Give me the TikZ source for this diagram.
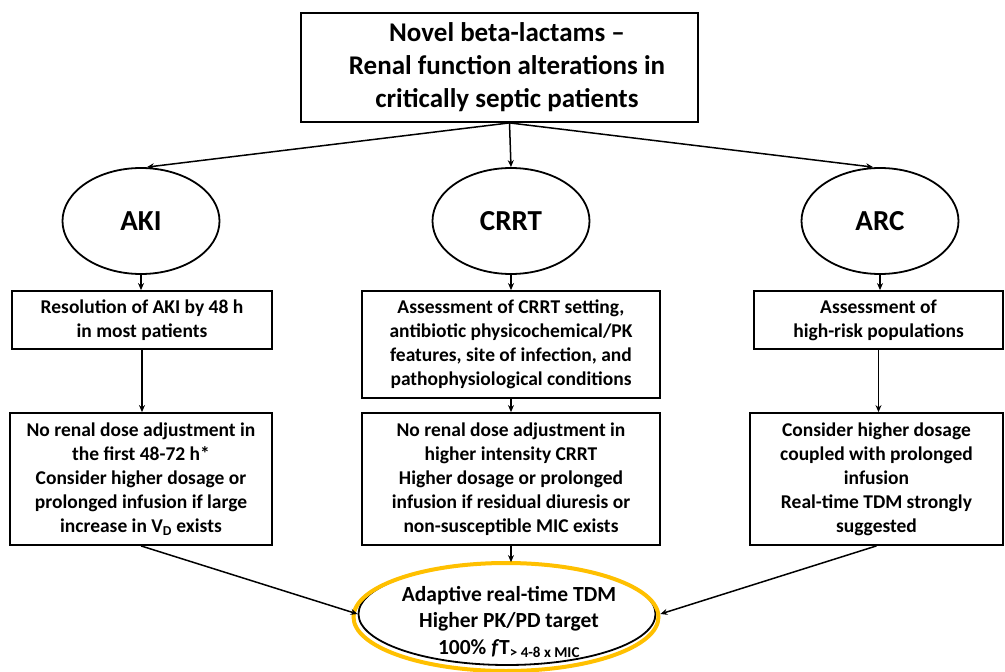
\documentclass[tikz,border=0pt]{standalone}
\usepackage{fontspec}
\setmainfont{Carlito}
\usetikzlibrary{shapes.geometric,arrows.meta,calc}
\definecolor{gold}{HTML}{FFC000}
\begin{document}
\begin{tikzpicture}[x=1pt,y=-1pt,
  every node/.style={font=\bfseries},
  box/.style={draw,line width=1.8pt,rectangle,inner sep=0pt,align=center,
    font=\bfseries\fontsize{19.5}{24}\selectfont},
  oval/.style={draw,line width=1.8pt,ellipse,inner sep=0pt,minimum width=157pt,minimum height=106pt,
    font=\bfseries\fontsize{29}{30}\selectfont},
  arr/.style={line width=1.5pt,-{Stealth[length=7pt,width=6pt]}}]
\useasboundingbox (0,0) rectangle (1005,672);
\fill[white] (0,0) rectangle (1005,672);

\node[box,minimum width=397pt,minimum height=109pt] (top) at (499.5,67.5) {};
\node[align=center,font=\bfseries\fontsize{27}{33}\selectfont] (toptxt) at (507,67.5)
  {Novel beta-lactams --\\Renal function alterations in\\critically septic patients};
\coordinate (tbo) at ([xshift=10pt]top.south);

\node[oval] (aki) at (141,221) {AKI};
\node[oval] (crrt) at (511,221) {CRRT};
\node[oval] (arc) at (880,221) {ARC};

\node[box,minimum width=260pt,minimum height=58pt] (b1a) at (142,320)
  {Resolution of AKI by 48 h\\in most patients};
\node[box,minimum width=298pt,minimum height=107pt] (b1c) at (511,344.5)
  {Assessment of CRRT setting,\\antibiotic physicochemical/PK\\features, site of infection, and\\pathophysiological conditions};
\node[box,minimum width=249pt,minimum height=58pt] (b1r) at (878.5,320)
  {Assessment of\\high-risk populations};

\node[box,minimum width=262pt,minimum height=132pt] (b2a) at (141,479)
  {No renal dose adjustment in\\the first 48-72 h*\\Consider higher dosage or\\prolonged infusion if large\\increase in V\textsubscript{D} exists};
\node[box,minimum width=298pt,minimum height=132pt] (b2c) at (511,479)
  {No renal dose adjustment in\\higher intensity CRRT\\Higher dosage or prolonged\\infusion if residual diuresis or\\non-susceptible MIC exists};
\node[box,minimum width=253pt,minimum height=132pt] (b2r) at (876.5,479)
  {Consider higher dosage\\coupled with prolonged\\infusion\\Real-time TDM strongly\\suggested};

\node[draw,line width=1.8pt,ellipse,inner sep=0pt,minimum width=297pt,minimum height=102pt] (goal) at (507,614) {};
\node[draw=gold,line width=4pt,ellipse,inner sep=0pt,minimum width=305pt,minimum height=108pt] (halo) at (506,617) {};
\node[align=center,font=\bfseries\fontsize{21.5}{26.5}\selectfont] (goaltxt) at (509,622)
  {Adaptive real-time TDM\\Higher PK/PD target\\100\% \textit{f}T\textsubscript{> 4-8 x MIC}};

\draw[arr] (tbo) -- ([xshift=6pt]aki.north);
\draw[arr] (tbo) -- (crrt.north);
\draw[arr] (tbo) -- ([xshift=-7pt]arc.north);

\draw[arr] (aki.south) -- (aki.south |- b1a.north);
\draw[arr] (crrt.south) -- (crrt.south |- b1c.north);
\draw[arr] (arc.south) -- (arc.south |- b1r.north);

\draw[arr] (b1a.south) -- (b1a.south |- b2a.north);
\draw[arr] (b1c.south) -- (b1c.south |- b2c.north);
\draw[arr] (b1r.south) -- (b1r.south |- b2r.north);

\draw[arr] (b2a.south) -- (goal.west);
\draw[arr] (b2c.south) -- (b2c.south |- goal.north);
\draw[arr] (b2r.south) -- ([xshift=4pt]goal.east);
\end{tikzpicture}
\end{document}
